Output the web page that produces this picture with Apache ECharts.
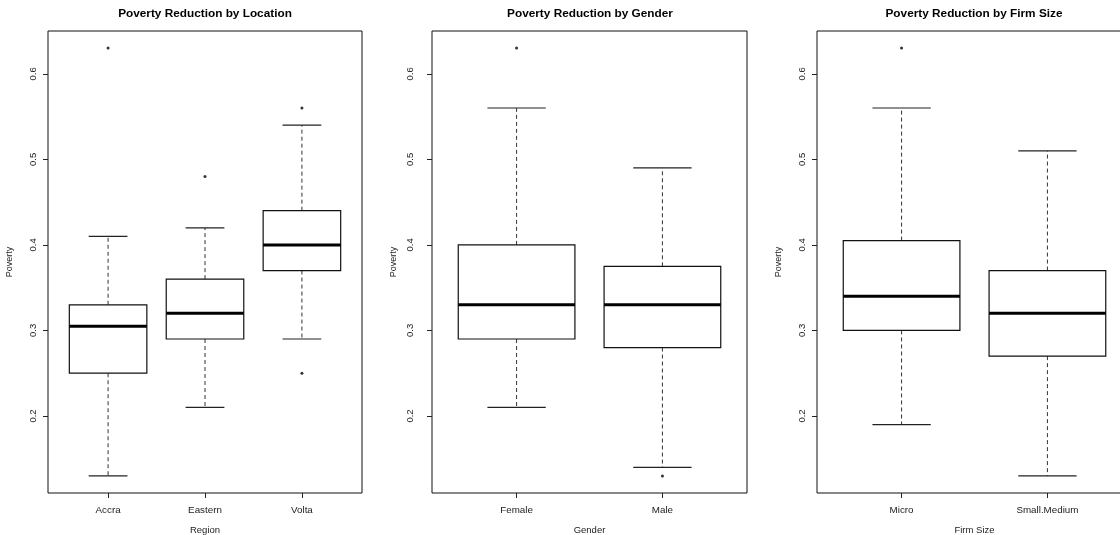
<!DOCTYPE html>
<html>
<head>
<meta charset="utf-8">
<script src="https://cdn.jsdelivr.net/npm/echarts@6/dist/echarts.min.js"></script>
<style>
html,body{margin:0;padding:0;background:#fff;}
#chart{width:1120px;height:535px;}
</style>
</head>
<body>
<div id="chart"></div>
<script>
// ---- data ----
const titles = ['Poverty Reduction by Location', 'Poverty Reduction by Gender', 'Poverty Reduction by Firm Size'];
const xNames = ['Region', 'Gender', 'Firm Size'];
const yName = 'Poverty';
const yTicks = [0.2, 0.3, 0.4, 0.5, 0.6];

const regionCats = ['Accra', 'Eastern', 'Volta'];
// [lower whisker, Q1, median, Q3, upper whisker]
const regionStats = [
  [0.13, 0.25, 0.305, 0.33, 0.41],
  [0.21, 0.29, 0.32, 0.36, 0.42],
  [0.29, 0.37, 0.40, 0.44, 0.54]
];
const regionOutliers = [[0.63], [0.48], [0.56, 0.25]];

const genderCats = ['Female', 'Male'];
const genderStats = [
  [0.21, 0.29, 0.33, 0.40, 0.56],
  [0.14, 0.28, 0.33, 0.375, 0.49]
];
const genderOutliers = [[0.63], [0.13]];

const firmCats = ['Micro', 'Small.Medium'];
const firmStats = [
  [0.19, 0.30, 0.34, 0.405, 0.56],
  [0.13, 0.27, 0.32, 0.37, 0.51]
];
const firmOutliers = [[0.63], []];

// ---- build ----
const panels = [
  {cats: regionCats, stats: regionStats, out: regionOutliers},
  {cats: genderCats, stats: genderStats, out: genderOutliers},
  {cats: firmCats, stats: firmStats, out: firmOutliers}
];
const FONT = 'Liberation Sans, Arial, sans-serif';
const gridLefts = [48, 432, 817];
const gridWidths = [314, 315, 315];
const titleCenters = [200, 585, 969];
const labelMargins = [10, 17, 10];
const BOXW = 0.8;

const grid = [], xAxis = [], yAxis = [], series = [], title = [];
panels.forEach((p, i) => {
  const n = p.cats.length;
  const ext = n * 0.04;
  grid.push({left: gridLefts[i], top: 31, width: gridWidths[i], height: 462,
    containLabel: false, outerBoundsMode: 'none',
    show: true, borderColor: '#111', borderWidth: 1, backgroundColor: 'transparent'});
  title.push({text: titles[i], left: titleCenters[i], top: 3,
    textAlign: 'center',
    textStyle: {fontFamily: FONT, fontSize: 11.8, fontWeight: 'bold', color: '#000'}});
  const cats = p.cats;
  xAxis.push({type: 'value', gridIndex: i, min: 0.5 - ext, max: n + 0.5 + ext,
    name: xNames[i], nameLocation: 'middle', nameGap: 32,
    nameTextStyle: {fontFamily: FONT, fontSize: 9.5, color: '#222'},
    splitLine: {show: false}, axisLine: {show: false},
    axisTick: {show: true, length: 5, inside: false, customValues: cats.map((c, k) => k + 1),
      lineStyle: {color: '#222', width: 1}},
    axisLabel: {customValues: cats.map((c, k) => k + 1), margin: 12,
      fontFamily: FONT, fontSize: 9.8, color: '#222',
      formatter: v => cats[Math.round(v) - 1] || ''}
  });
  yAxis.push({type: 'value', gridIndex: i, min: 0.11, max: 0.65,
    name: yName, nameLocation: 'middle', nameGap: 34, nameRotate: 90,
    nameTextStyle: {fontFamily: FONT, fontSize: 9, color: '#222'},
    splitLine: {show: false}, axisLine: {show: false},
    axisTick: {show: true, length: 5, customValues: yTicks, lineStyle: {color: '#222', width: 1}},
    axisLabel: {customValues: yTicks, rotate: 90, margin: labelMargins[i],
      fontFamily: FONT, fontSize: 9.5, color: '#222',
      formatter: v => v.toFixed(1)}
  });
  const boxData = p.stats.map((s, k) => [k + 1].concat(s));
  series.push({
    type: 'custom', xAxisIndex: i, yAxisIndex: i, data: boxData,
    renderItem: function (params, api) {
      const x = api.value(0);
      const lo = api.coord([x, api.value(1)]);
      const q1 = api.coord([x, api.value(2)]);
      const med = api.coord([x, api.value(3)]);
      const q3 = api.coord([x, api.value(4)]);
      const hi = api.coord([x, api.value(5)]);
      const w = api.size([BOXW, 0])[0];
      const cx = lo[0];
      const dash = {stroke: '#333', lineWidth: 1, lineDash: [4, 3]};
      const solid = {stroke: '#222', lineWidth: 1.2};
      return {type: 'group', children: [
        {type: 'line', shape: {x1: cx, y1: q3[1], x2: cx, y2: hi[1]}, style: dash},
        {type: 'line', shape: {x1: cx, y1: q1[1], x2: cx, y2: lo[1]}, style: dash},
        {type: 'line', shape: {x1: cx - w / 4, y1: hi[1], x2: cx + w / 4, y2: hi[1]}, style: solid},
        {type: 'line', shape: {x1: cx - w / 4, y1: lo[1], x2: cx + w / 4, y2: lo[1]}, style: solid},
        {type: 'rect', shape: {x: cx - w / 2, y: q3[1], width: w, height: q1[1] - q3[1]},
          style: {fill: '#fff', stroke: '#111', lineWidth: 1.2}},
        {type: 'line', shape: {x1: cx - w / 2, y1: med[1], x2: cx + w / 2, y2: med[1]},
          style: {stroke: '#000', lineWidth: 3}}
      ]};
    }
  });
  const outData = [];
  p.out.forEach((arr, k) => arr.forEach(v => outData.push([k + 1, v])));
  series.push({type: 'scatter', xAxisIndex: i, yAxisIndex: i, data: outData,
    symbol: 'circle', symbolSize: 3, itemStyle: {color: '#000'}, silent: true});
});

const chart = echarts.init(document.getElementById('chart'), null, {renderer: 'canvas'});
chart.setOption({backgroundColor: '#fff', animation: false, title, grid, xAxis, yAxis, series});
</script>
</body>
</html>
